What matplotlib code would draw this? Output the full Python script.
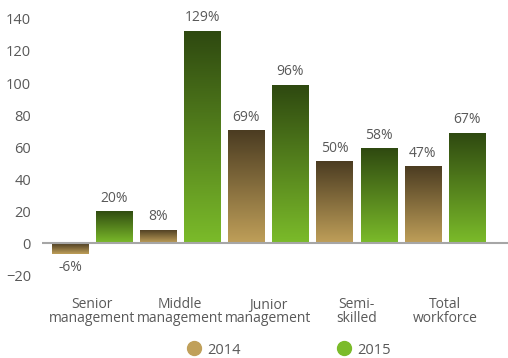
import numpy as np
import matplotlib
matplotlib.use("Agg")
from matplotlib import pyplot as plt
from matplotlib.colors import LinearSegmentedColormap
from matplotlib.lines import Line2D

plt.rcParams['font.family'] = ['Open Sans', 'DejaVu Sans']

#Data
categories = ['Senior\nmanagement', 'Middle\nmanagement', 'Junior\nmanagement', 'Semi-\nskilled', 'Total\nworkforce']
bars_2014 = [-6.8, 8.3, 70.6, 51.3, 48.1]
bars_2015 = [20.0, 132.7, 98.8, 59.4, 68.8]
labels_2014 = ['-6%', '8%', '69%', '50%', '47%']
labels_2015 = ['20%', '129%', '96%', '58%', '67%']

grey = '#595959'
cmap_2014 = LinearSegmentedColormap.from_list('c2014', ['#bf9f59', '#4a3b21'])
cmap_2015 = LinearSegmentedColormap.from_list('c2015', ['#7bbb2a', '#2e4810'])

fig = plt.figure(figsize=(5.08, 3.58), dpi=100)
ax = fig.add_axes([42/508, 1-285/358, 466/508, 275/358])

width = 0.41
grad = np.linspace(0, 1, 256).reshape(-1, 1)

def gradient_bars(xs, vals, cmap, labels):
    bars = ax.bar(xs, vals, width, color='none', edgecolor='none', zorder=2)
    for b, lab in zip(bars, labels):
        x0 = b.get_x()
        y0, y1 = min(0, b.get_height()), max(0, b.get_height())
        im = ax.imshow(grad, extent=[x0, x0 + width, y0, y1], origin='lower',
                       aspect='auto', cmap=cmap, zorder=2)
        im.set_clip_path(b)
        v = b.get_height()
        ax.annotate(lab, (x0 + width/2, v), xytext=(0, 4 if v >= 0 else -4),
                    textcoords='offset points', ha='center',
                    va='bottom' if v >= 0 else 'top', fontsize=10, color=grey)

x = np.arange(len(categories))
gradient_bars(x - 0.25, bars_2014, cmap_2014, labels_2014)
gradient_bars(x + 0.25, bars_2015, cmap_2015, labels_2015)

ax.set_xlim((42-92)/88.2, (508-92)/88.2)
ax.set_ylim((243.3-285)/1.6025, (243.3-10)/1.6025)
ax.axhline(0, color='#a6a6a6', lw=1.5, zorder=3)

for s in ax.spines.values():
    s.set_visible(False)
ax.set_yticks(range(-20, 141, 20))
ax.tick_params(axis='y', length=0, pad=8, labelsize=10.5, labelcolor=grey)
ax.set_xticks(x)
ax.set_xticklabels(categories)
ax.tick_params(axis='x', length=0, pad=9, labelsize=10, labelcolor=grey)
for lbl in ax.get_xticklabels():
    lbl.set_linespacing(0.9)

handles = [Line2D([], [], marker='o', ls='none', ms=10, color='#c0a05a', label='2014'),
           Line2D([], [], marker='o', ls='none', ms=10, color='#7bbb2a', label='2015')]
fig.legend(handles=handles, loc='center', bbox_to_anchor=(289/508, 1-350/358), ncol=2,
           frameon=False, fontsize=10.5, labelcolor=grey, handletextpad=0.4,
           columnspacing=6.6, handlelength=1.0)

fig.savefig('out.png', dpi=100)
